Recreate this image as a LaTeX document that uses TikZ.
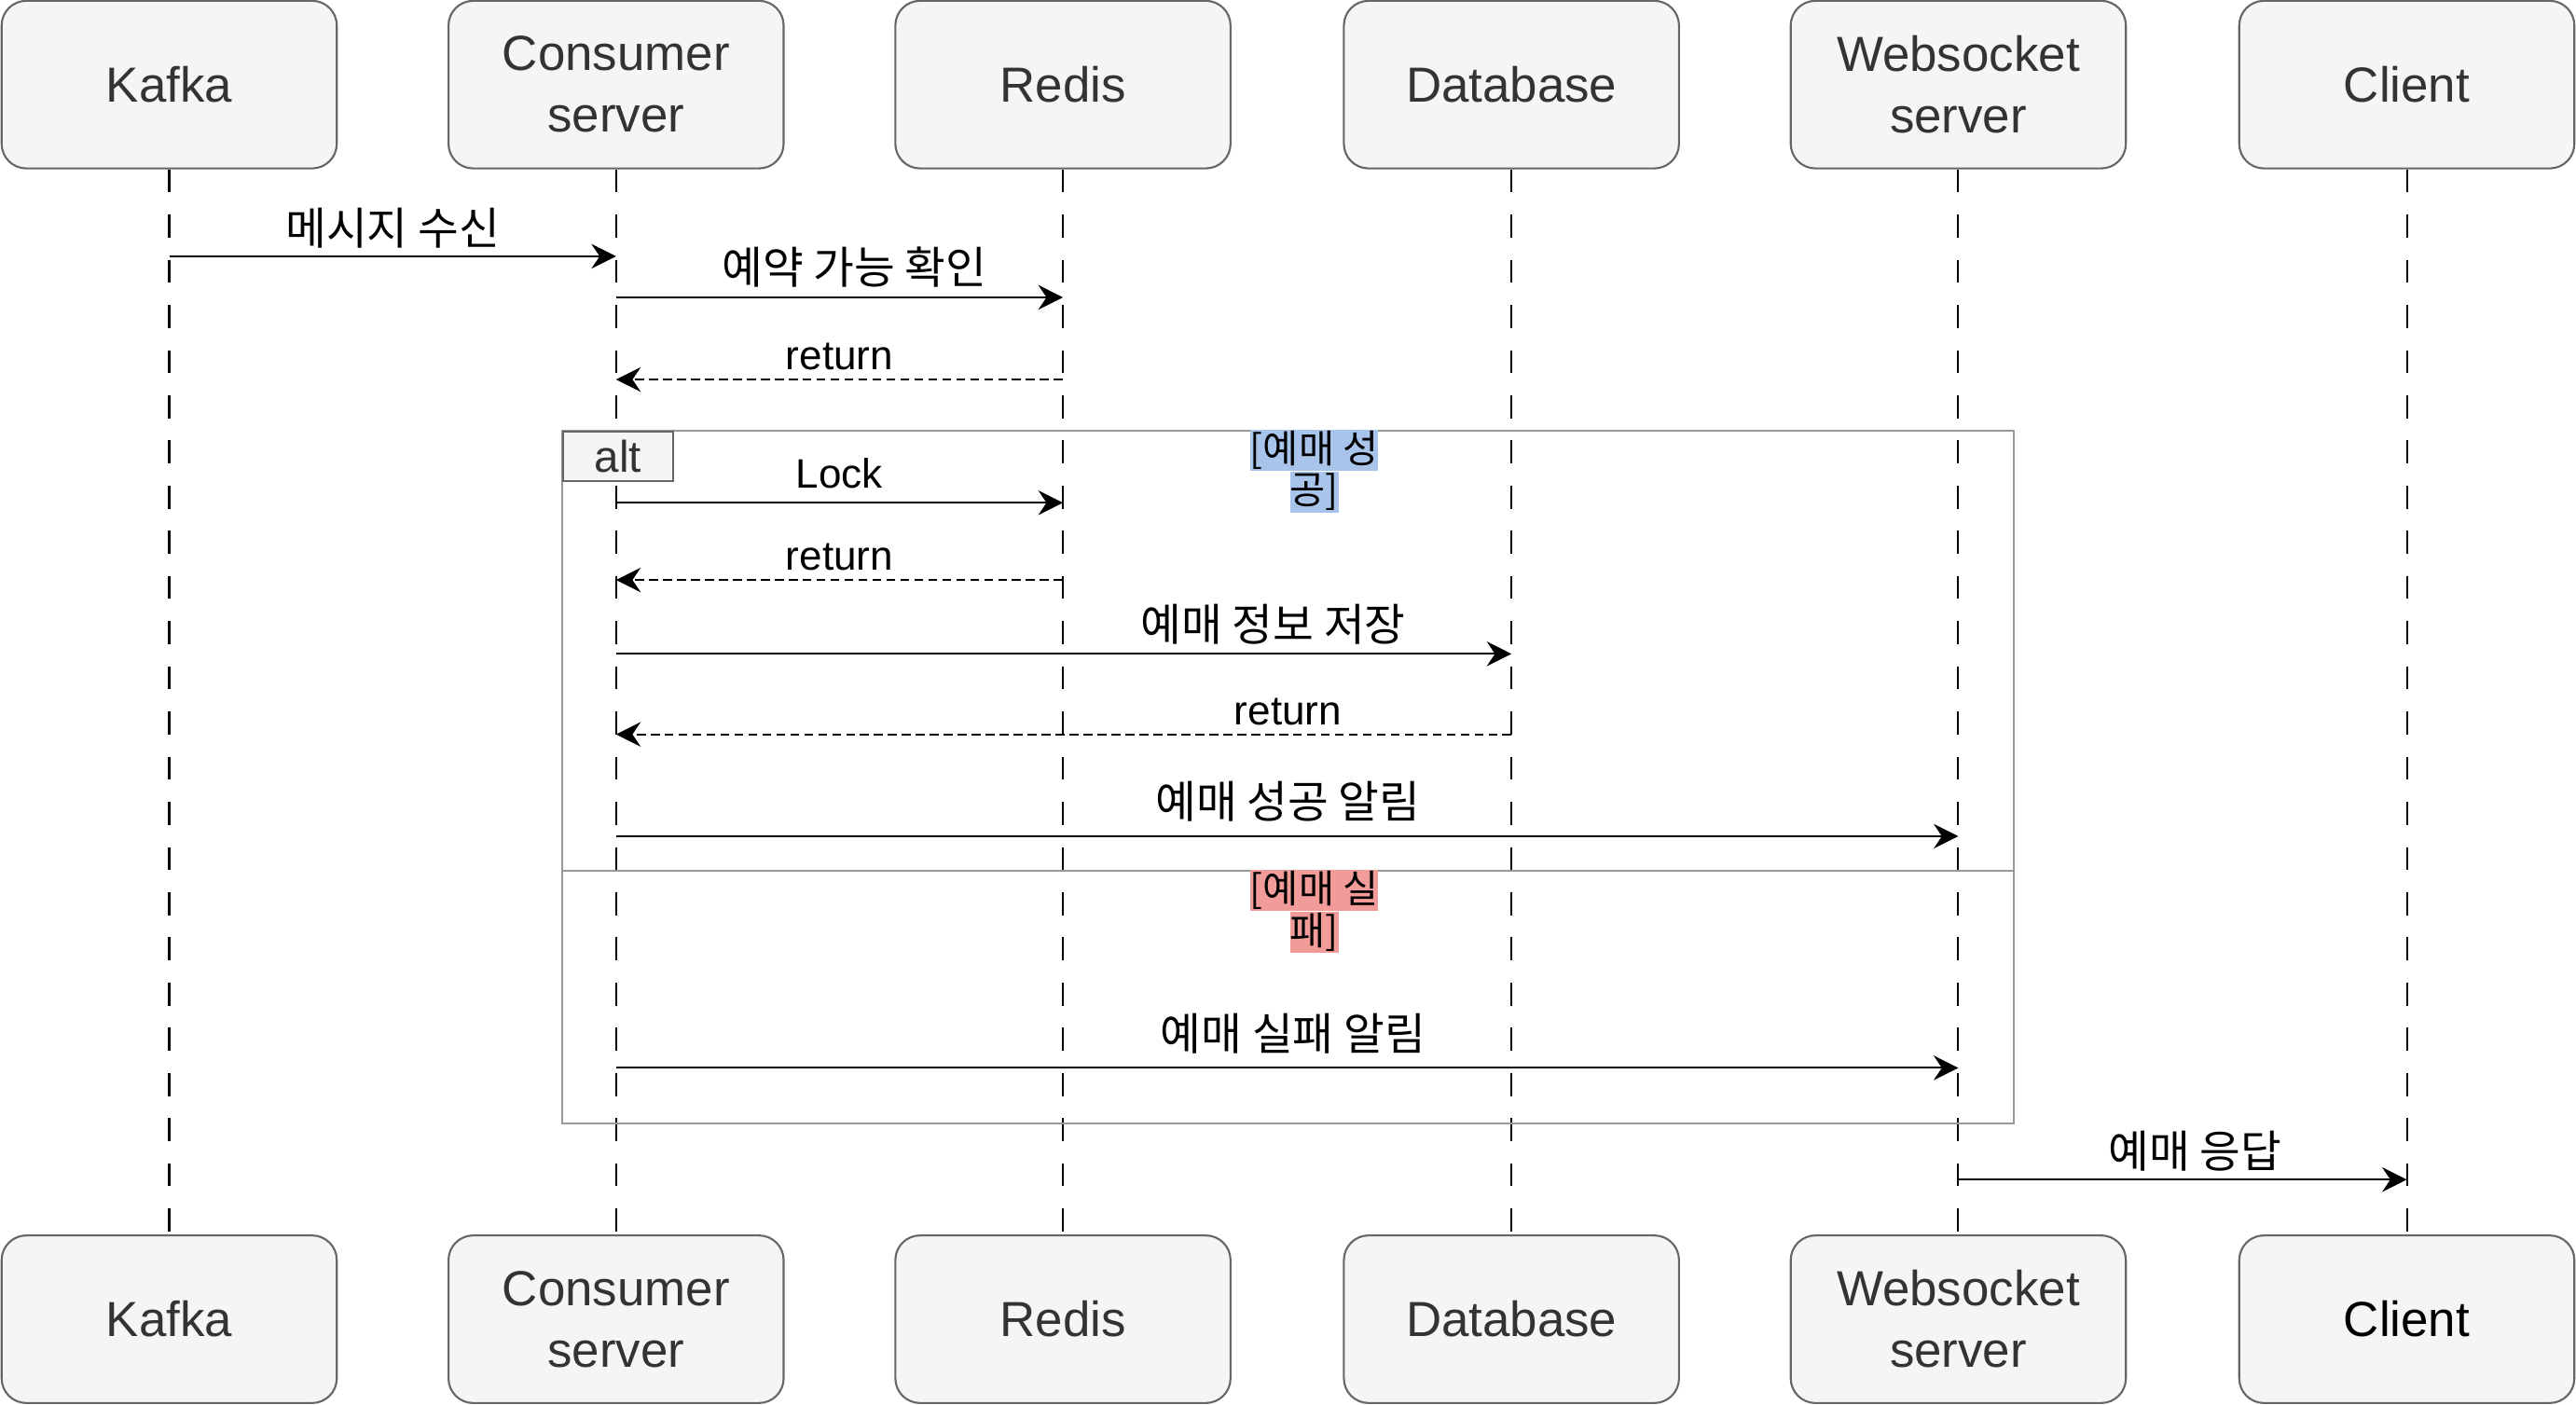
\documentclass[tikz,border=0pt]{standalone}
\usepackage{fontspec}
\setmainfont{Liberation Sans}
\newfontfamily\kr{Noto Sans CJK KR}
\usetikzlibrary{arrows.meta}
\definecolor{boxfill}{HTML}{F5F5F5}
\definecolor{boxline}{HTML}{666666}
\definecolor{boxtext}{HTML}{333333}
\definecolor{framegray}{HTML}{999999}
\definecolor{okblue}{HTML}{A9C4EB}
\definecolor{failred}{HTML}{F19C99}
\tikzset{
  actor/.style={draw=boxline, fill=boxfill, line width=1.2pt, rounded corners=15pt,
    minimum width=204pt, minimum height=102pt, inner sep=0pt, align=center,
    text=boxtext, font=\fontsize{30}{37.5}\selectfont},
  life/.style={line width=1.15pt, dash pattern=on 14pt off 13.5pt},
  msg/.style={line width=1.15pt, -{Stealth[length=15pt, width=15pt, inset=5pt]}},
  ret/.style={msg, dash pattern=on 5.5pt off 3pt},
  mlabel/.style={anchor=base, inner sep=0pt, font=\fontsize{25}{28}\selectfont},
  klabel/.style={mlabel, font=\kr\fontsize{27}{30}\selectfont},
  guard/.style={inner sep=0pt, outer sep=0pt, font=\kr\fontsize{23.5}{25}\selectfont,
    minimum height=25pt},
}
\begin{document}
\begin{tikzpicture}[x=1pt, y=-1pt]
\useasboundingbox (0,0) rectangle (1568,854.65);
% top actors
\node[actor] (t1) at (103,51.5) {Kafka};
\node[actor] (t2) at (375,51.5) {Consumer\\server};
\node[actor] (t3) at (647,51.5) {Redis};
\node[actor] (t4) at (920,51.5) {Database};
\node[actor] (t5) at (1192,51.5) {Websocket\\server};
\node[actor] (t6) at (1465,51.5) {Client};
% bottom actors
\node[actor] (b1) at (103,803) {Kafka};
\node[actor] (b2) at (375,803) {Consumer\\server};
\node[actor] (b3) at (647,803) {Redis};
\node[actor] (b4) at (920,803) {Database};
\node[actor] (b5) at (1192,803) {Websocket\\server};
\node[actor, text=black] (b6) at (1465,803) {Client};
% lifelines
\foreach \i in {1,...,6} {
  \draw[life] (t\i.south) -- (b\i.north);
}
% alt frame
\draw[framegray, line width=1.2pt] (342,262) rectangle (1226,684);
\draw[framegray, line width=1.2pt] (342,530) -- (1226,530);
\node[draw=boxline, fill=boxfill, line width=1.2pt, minimum width=67pt, minimum height=30pt,
  inner sep=0pt, anchor=north west, text=boxtext, font=\fontsize{27}{30}\selectfont] (alt) at (342,262) {alt};
% guards
\node[guard, fill=okblue] (g1a) at (800,274) {[예매 성};
\node[guard, fill=okblue] (g1b) at (800,299.5) {공]};
\node[guard, fill=failred] (g2a) at (800,542) {[예매 실};
\node[guard, fill=failred] (g2b) at (800,567.5) {패]};
% messages
\draw[msg] (t1 |- 0,156) -- (t2 |- 0,156);
\node[klabel] (l1) at (239,149) {메시지 수신};
\draw[msg] (t2 |- 0,181) -- (t3 |- 0,181);
\node[klabel] (l2) at (520,173) {예약 가능 확인};
\draw[ret] (t3 |- 0,231) -- (t2 |- 0,231);
\node[mlabel] (l3) at (511,225) {return};
\draw[msg] (t2 |- 0,306) -- (t3 |- 0,306);
\node[mlabel] (l4) at (511,297) {Lock};
\draw[ret] (t3 |- 0,353) -- (t2 |- 0,353);
\node[mlabel] (l5) at (511,347) {return};
\draw[msg] (t2 |- 0,398) -- (t4 |- 0,398);
\node[klabel] (l6) at (775,390) {예매 정보 저장};
\draw[ret] (t4 |- 0,447) -- (t2 |- 0,447);
\node[mlabel] (l7) at (784,441) {return};
\draw[msg] (t2 |- 0,509) -- (t5 |- 0,509);
\node[klabel] (l8) at (784,498) {예매 성공 알림};
\draw[msg] (t2 |- 0,650) -- (t5 |- 0,650);
\node[klabel] (l9) at (787,639) {예매 실패 알림};
\draw[msg] (t5 |- 0,718) -- (t6 |- 0,718);
\node[klabel] (l10) at (1336,711) {예매 응답};
\end{tikzpicture}
\end{document}
